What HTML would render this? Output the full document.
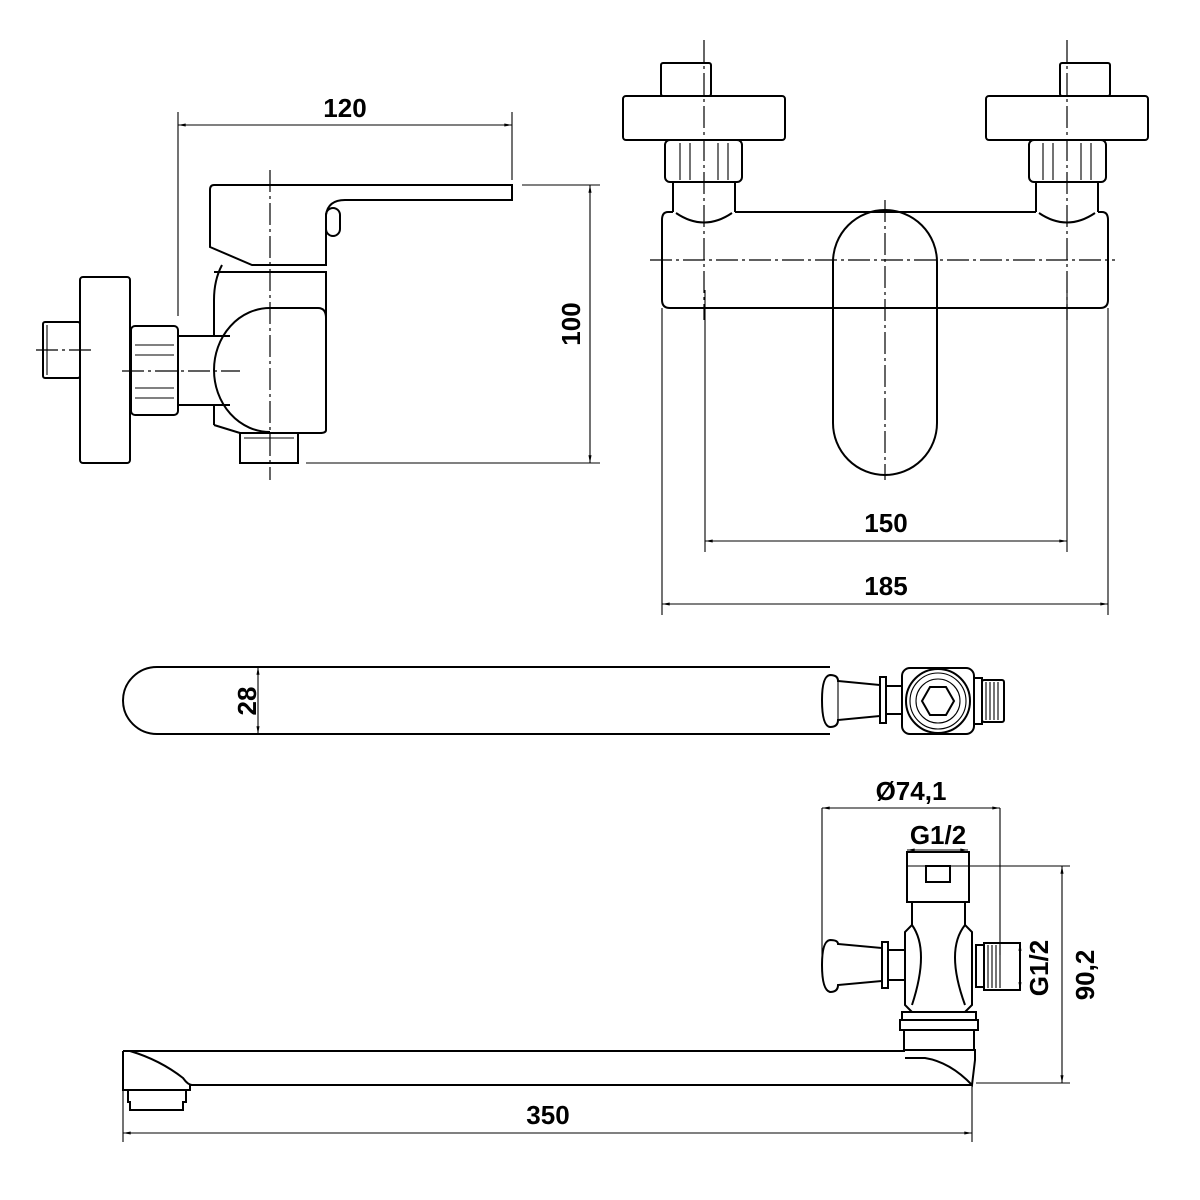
<!DOCTYPE html>
<html><head><meta charset="utf-8"><style>
html,body{margin:0;padding:0;background:#fff}
svg{display:block}
text{font-family:"Liberation Sans",Arial,sans-serif;font-size:26px;font-weight:bold;fill:#000}
.s{fill:none;stroke:#000;stroke-width:2}
.t{fill:none;stroke:#000;stroke-width:1.1}
.c{fill:none;stroke:#000;stroke-width:1.2;stroke-dasharray:22 4 3 4}
</style></head><body>
<svg width="1200" height="1200" viewBox="0 0 1200 1200">
<defs>
<marker id="a" viewBox="0 0 10 10" refX="10" refY="5" markerWidth="10" markerHeight="7" orient="auto-start-reverse"><path d="M0,3L10,5L0,7z" fill="#000"/></marker>
</defs>

<line class="t" x1="178" y1="112" x2="178" y2="316"/>
<line class="t" x1="512" y1="112" x2="512" y2="180"/>
<line class="t" x1="178" y1="125" x2="512" y2="125" marker-start="url(#a)" marker-end="url(#a)"/>
<text x="345" y="117" text-anchor="middle">120</text>
<path class="s" d="M214,185 L512,185 L512,200 L345,200 Q328,200 326,215 L326,265 L252,265 L210,247 L210,190 Q210,185 214,185Z"/>
<rect class="s" x="326" y="208" width="14" height="28" rx="7"/>
<path class="s" d="M214,272 L326,272 L326,430 Q326,433 320,433 L240,433"/>
<path class="s" d="M222,265 Q214,280 214,300 L214,336"/>
<path class="s" d="M270,308 L318,308 Q326,308 326,318"/>
<path class="s" d="M270,308 A56,62 0 0 0 270,432"/>
<line class="s" x1="214" y1="405" x2="214" y2="425"/>
<line class="s" x1="214" y1="425" x2="240" y2="433"/>
<rect class="s" x="240" y="433" width="58" height="30"/>
<line class="t" x1="244" y1="438" x2="294" y2="438"/>
<line class="s" x1="178" y1="336" x2="230" y2="336"/>
<line class="s" x1="178" y1="405" x2="230" y2="405"/>
<rect class="s" x="131" y="326" width="47" height="89" rx="4"/>
<line class="t" x1="135" y1="345" x2="174" y2="345"/>
<line class="t" x1="135" y1="355" x2="174" y2="355"/>
<line class="t" x1="135" y1="388" x2="174" y2="388"/>
<line class="t" x1="135" y1="398" x2="174" y2="398"/>
<rect class="s" x="80" y="277" width="50" height="186" rx="3"/>
<rect class="s" x="43" y="322" width="37" height="56" rx="2"/>
<line class="t" x1="47" y1="325" x2="47" y2="375"/>
<line class="c" x1="36" y1="350" x2="92" y2="350"/>
<line class="c" x1="122" y1="371" x2="240" y2="371"/>
<line class="c" x1="270" y1="170" x2="270" y2="480"/>
<line class="t" x1="522" y1="185" x2="600" y2="185"/>
<line class="t" x1="306" y1="463" x2="600" y2="463"/>
<line class="t" x1="590" y1="185" x2="590" y2="463" marker-start="url(#a)" marker-end="url(#a)"/>
<text transform="translate(580,324) rotate(-90)" text-anchor="middle">100</text>

<g id="conn">
<rect class="s" x="661" y="63" width="50" height="33" rx="2"/>
<rect class="s" x="623" y="96" width="162" height="44" rx="3"/>
<rect class="s" x="665" y="140" width="77" height="42" rx="5"/>
<line class="t" x1="680" y1="143" x2="680" y2="180"/>
<line class="t" x1="690" y1="143" x2="690" y2="180"/>
<line class="t" x1="718" y1="143" x2="718" y2="180"/>
<line class="t" x1="728" y1="143" x2="728" y2="180"/>
<path class="s" d="M673,182 L673,212 M735,182 L735,212"/>
<path class="s" d="M676,213 Q704,232 732,213"/>
</g>
<use href="#conn" transform="translate(1771,0) scale(-1,1)"/>
<path class="s" d="M735,212 L1036,212 M673,212 L668,212 Q662,212 662,220 L662,300 Q662,308 670,308 L1100,308 Q1108,308 1108,300 L1108,220 Q1108,212 1102,212 L1098,212"/>
<rect class="s" x="833" y="210" width="104" height="265" rx="52" fill="#fff"/>
<line class="c" x1="650" y1="260" x2="1115" y2="260"/>
<line class="c" x1="885" y1="200" x2="885" y2="480"/>
<line class="c" x1="704" y1="40" x2="704" y2="320"/>
<line class="c" x1="1067" y1="40" x2="1067" y2="320"/>
<line class="t" x1="705" y1="290" x2="705" y2="552"/>
<line class="t" x1="1067" y1="290" x2="1067" y2="552"/>
<line class="t" x1="705" y1="541" x2="1067" y2="541" marker-start="url(#a)" marker-end="url(#a)"/>
<text x="886" y="532" text-anchor="middle">150</text>
<line class="t" x1="662" y1="308" x2="662" y2="615"/>
<line class="t" x1="1108" y1="308" x2="1108" y2="615"/>
<line class="t" x1="662" y1="604" x2="1108" y2="604" marker-start="url(#a)" marker-end="url(#a)"/>
<text x="886" y="595" text-anchor="middle">185</text>

<path class="s" d="M830,667 L157,667 A34,33.5 0 0 0 157,734 L830,734"/>
<line class="t" x1="258" y1="667" x2="258" y2="734" marker-start="url(#a)" marker-end="url(#a)"/>
<text transform="translate(256,701) rotate(-90)" text-anchor="middle">28</text>
<path class="s" d="M830,675 Q822,676 822,700 Q822,726 830,727 Q838,727 838,720 L880,716 L880,685 L838,681 Q838,675 830,675Z"/>
<line class="t" x1="838" y1="681" x2="838" y2="720"/>
<rect class="s" x="880" y="677" width="6" height="46"/>
<line class="s" x1="886" y1="686" x2="902" y2="686"/><line class="s" x1="886" y1="714" x2="902" y2="714"/>
<rect class="s" x="902" y="668" width="72" height="66" rx="8"/>
<circle class="s" cx="938" cy="701" r="32"/>
<circle class="t" cx="938" cy="701" r="28"/>
<circle class="t" cx="938" cy="701" r="22"/>
<polygon class="s" points="930,687 946,687 954,701 946,715 930,715 922,701"/>
<rect class="s" x="974" y="678" width="8" height="46"/>
<rect class="s" x="982" y="680" width="22" height="42" rx="2"/>
<line class="t" x1="986" y1="682" x2="986" y2="720"/><line class="t" x1="990" y1="682" x2="990" y2="720"/><line class="t" x1="994" y1="682" x2="994" y2="720"/><line class="t" x1="998" y1="682" x2="998" y2="720"/>

<path class="s" d="M123,1051 L905,1051 M123,1051 L123,1090 L190,1090 L190,1085 L972,1085"/>
<path class="s" d="M130,1051 Q160,1060 183,1078 Q188,1085 192,1085"/>
<path class="s" d="M128,1090 L128,1102 L130,1102 L130,1110 L183,1110 L183,1102 L186,1102 L186,1090"/>
<path class="s" d="M905,1050 L975,1050 L975,1060 L972,1085 Q950,1062 925,1058 L905,1058"/>
<rect class="s" x="907" y="852" width="62" height="50"/>
<line class="t" x1="907" y1="866" x2="969" y2="866"/>
<rect class="s" x="926" y="866" width="24" height="16"/>
<path class="s" d="M912,902 L912,925 L905,932 L905,1005 L912,1012 L965,1012 L972,1005 L972,932 L965,925 L965,902"/>
<path class="s" d="M912,925 Q930,950 912,1005 M965,925 Q945,950 965,1005"/>
<rect class="s" x="902" y="1012" width="74" height="8"/>
<path class="s" d="M900,1020 L978,1020 L978,1030 L900,1030Z"/>
<rect class="s" x="904" y="1030" width="70" height="20"/>
<path class="s" d="M830,940 Q822,941 822,965 Q822,990 830,992 Q838,992 838,985 L882,981 L882,948 L838,944 Q838,940 830,940Z"/>
<rect class="s" x="882" y="942" width="6" height="46"/>
<line class="s" x1="888" y1="950" x2="905" y2="950"/><line class="s" x1="888" y1="980" x2="905" y2="980"/>
<rect class="s" x="976" y="945" width="8" height="42"/>
<rect class="s" x="984" y="943" width="36" height="47"/>
<line class="t" x1="988" y1="945" x2="988" y2="988"/><line class="t" x1="992" y1="945" x2="992" y2="988"/><line class="t" x1="996" y1="945" x2="996" y2="988"/><line class="t" x1="1000" y1="945" x2="1000" y2="988"/>
<line class="t" x1="822" y1="808" x2="822" y2="955"/>
<line class="t" x1="1000" y1="808" x2="1000" y2="955"/>
<line class="t" x1="822" y1="808" x2="1000" y2="808" marker-start="url(#a)" marker-end="url(#a)"/>
<text x="911" y="800" text-anchor="middle">Ø74,1</text>
<line class="t" x1="907" y1="850" x2="968" y2="850" marker-start="url(#a)" marker-end="url(#a)"/>
<text x="938" y="844" text-anchor="middle">G1/2</text>
<line class="t" x1="969" y1="866" x2="1070" y2="866"/>
<line class="t" x1="976" y1="1083" x2="1070" y2="1083"/>
<line class="t" x1="1062" y1="866" x2="1062" y2="1083" marker-start="url(#a)" marker-end="url(#a)"/>
<text transform="translate(1094,975) rotate(-90)" text-anchor="middle">90,2</text>
<line class="t" x1="1020" y1="943" x2="1020" y2="990" marker-start="url(#a)" marker-end="url(#a)"/>
<text transform="translate(1048,968) rotate(-90)" text-anchor="middle">G1/2</text>
<line class="t" x1="123" y1="1090" x2="123" y2="1142"/>
<line class="t" x1="972" y1="1085" x2="972" y2="1142"/>
<line class="t" x1="123" y1="1133" x2="972" y2="1133" marker-start="url(#a)" marker-end="url(#a)"/>
<text x="548" y="1124" text-anchor="middle">350</text>
</svg>
</body></html>
